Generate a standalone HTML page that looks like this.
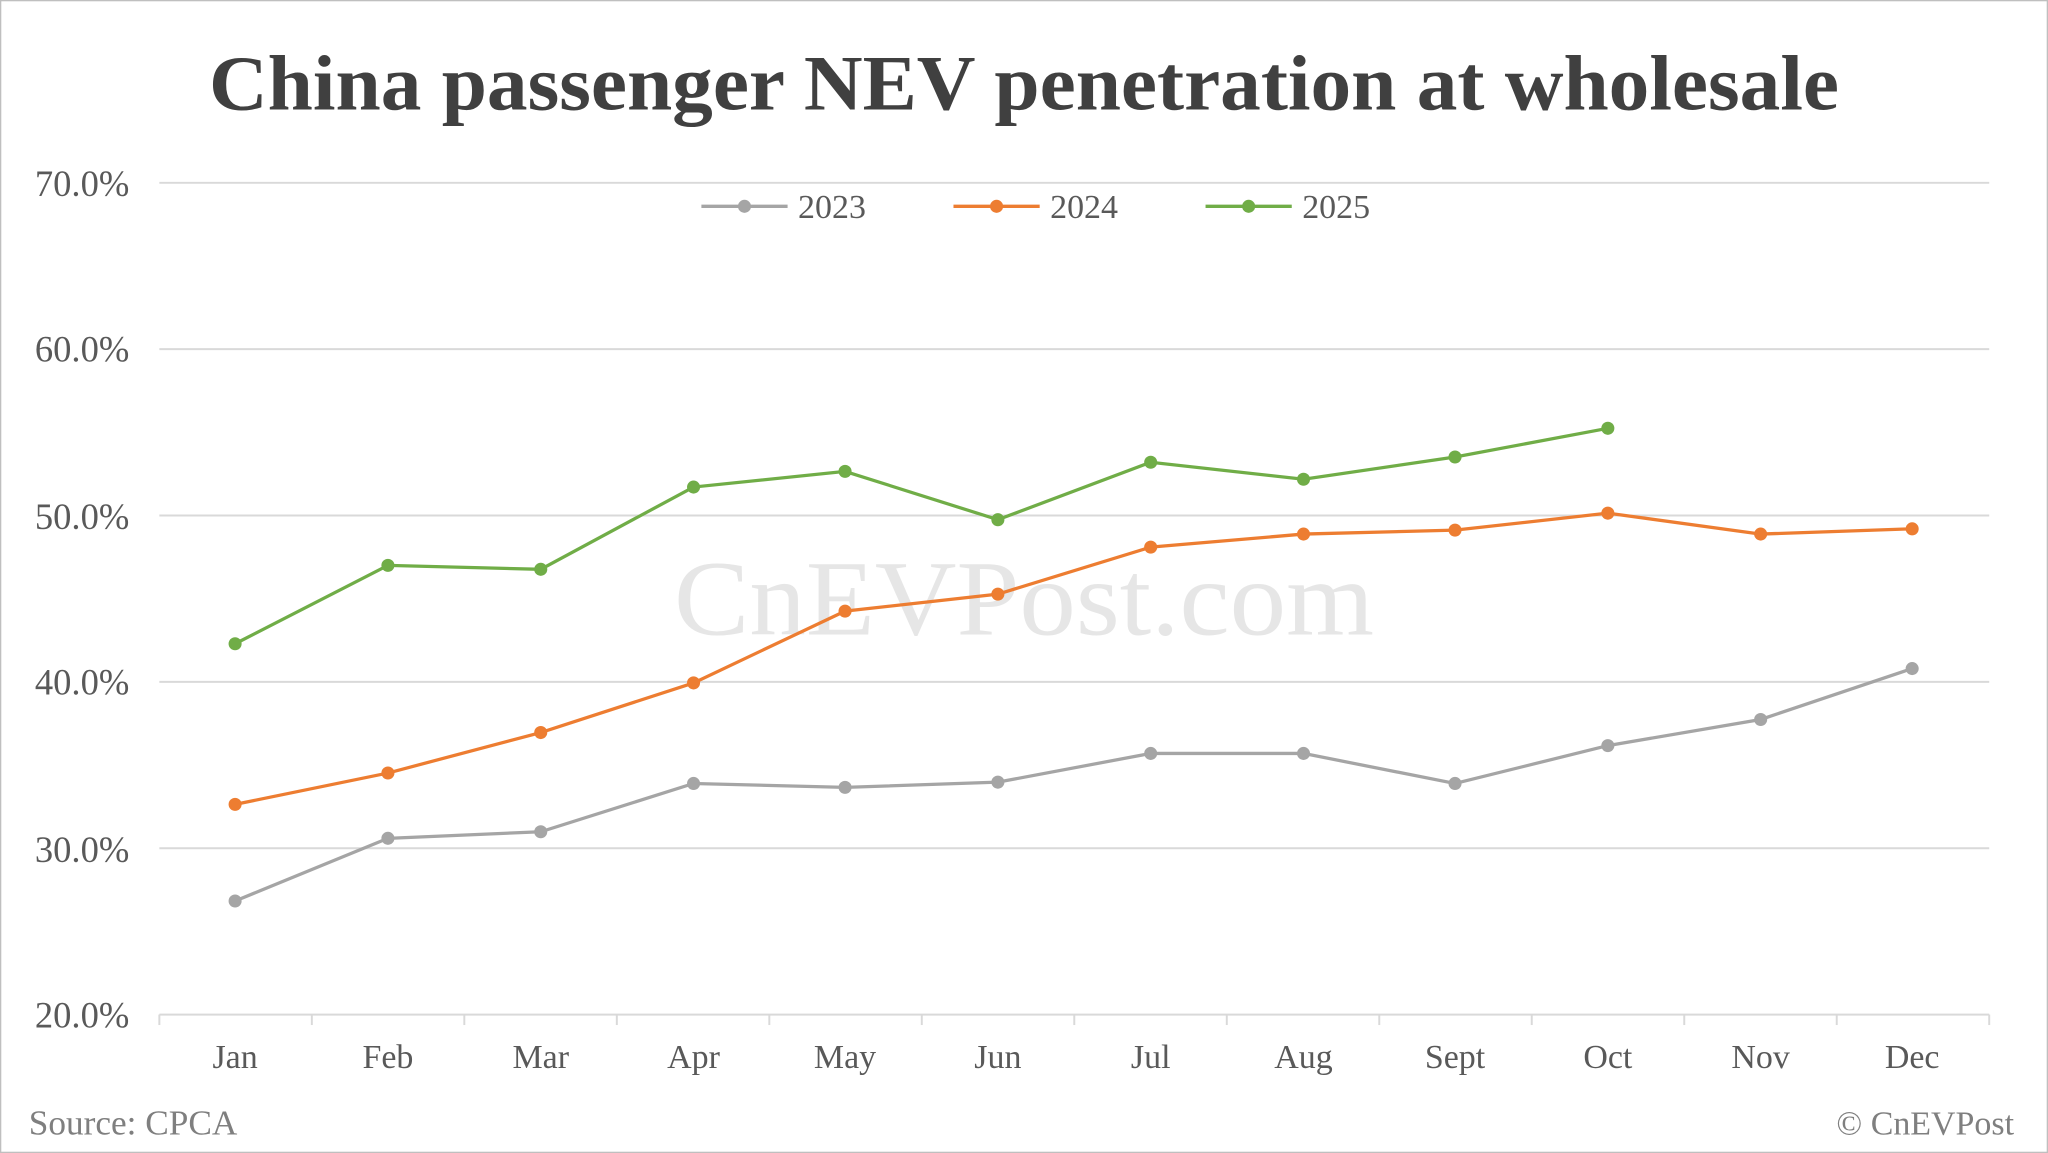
<!DOCTYPE html>
<html><head><meta charset="utf-8"><style>
html,body{margin:0;padding:0;background:#fff;}
svg{display:block;}
text{font-family:"Liberation Serif",serif;}
</style></head><body>
<svg width="2048" height="1153" viewBox="0 0 1568 883" preserveAspectRatio="none" xmlns="http://www.w3.org/2000/svg">
<rect x="0.5" y="0.5" width="1567" height="882" fill="#fff" stroke="#bfbfbf"/>
<text x="160" y="84" font-size="60" font-weight="bold" fill="#404040" textLength="1248" lengthAdjust="spacingAndGlyphs">China passenger NEV penetration at wholesale</text>
<g stroke="#d9d9d9" stroke-width="1.5">
<line x1="122" y1="140" x2="1523" y2="140"/>
<line x1="122" y1="267.4" x2="1523" y2="267.4"/>
<line x1="122" y1="394.8" x2="1523" y2="394.8"/>
<line x1="122" y1="522.2" x2="1523" y2="522.2"/>
<line x1="122" y1="649.6" x2="1523" y2="649.6"/>
<line x1="122" y1="777" x2="1523" y2="777"/>
</g>
<g stroke="#d9d9d9" stroke-width="1.5">
<line x1="122" y1="777" x2="122" y2="785"/><line x1="238.75" y1="777" x2="238.75" y2="785"/><line x1="355.5" y1="777" x2="355.5" y2="785"/><line x1="472.25" y1="777" x2="472.25" y2="785"/><line x1="589" y1="777" x2="589" y2="785"/><line x1="705.75" y1="777" x2="705.75" y2="785"/><line x1="822.5" y1="777" x2="822.5" y2="785"/><line x1="939.25" y1="777" x2="939.25" y2="785"/><line x1="1056" y1="777" x2="1056" y2="785"/><line x1="1172.75" y1="777" x2="1172.75" y2="785"/><line x1="1289.5" y1="777" x2="1289.5" y2="785"/><line x1="1406.25" y1="777" x2="1406.25" y2="785"/><line x1="1523" y1="777" x2="1523" y2="785"/>
</g>
<g font-size="28" fill="#595959" text-anchor="end">
<text x="99" y="150">70.0%</text><text x="99" y="277">60.0%</text><text x="99" y="405">50.0%</text><text x="99" y="532">40.0%</text><text x="99" y="660">30.0%</text><text x="99" y="787">20.0%</text>
</g>
<g font-size="26" fill="#595959" text-anchor="middle">
<text x="180" y="818">Jan</text><text x="297" y="818">Feb</text><text x="414" y="818">Mar</text><text x="531" y="818">Apr</text><text x="647" y="818">May</text><text x="764" y="818">Jun</text><text x="881" y="818">Jul</text><text x="998" y="818">Aug</text><text x="1114" y="818">Sept</text><text x="1231" y="818">Oct</text><text x="1348" y="818">Nov</text><text x="1464" y="818">Dec</text>
</g>
<text x="516" y="486" font-size="82" fill="#e6e6e6" textLength="536" lengthAdjust="spacingAndGlyphs">CnEVPost.com</text>
<g fill="none" stroke-width="2.5">
<polyline stroke="#a5a5a5" points="180,690 297,642 414,637 531,600 647,603 764,599 881,577 998,577 1114,600 1231,571 1348,551 1464,512"/>
<polyline stroke="#ed7d31" points="180,616 297,592 414,561 531,523 647,468 764,455 881,419 998,409 1114,406 1231,393 1348,409 1464,405"/>
<polyline stroke="#70ad47" points="180,493 297,433 414,436 531,373 647,361 764,398 881,354 998,367 1114,350 1231,328"/>
</g>
<g fill="#a5a5a5"><circle cx="180" cy="690" r="5"/><circle cx="297" cy="642" r="5"/><circle cx="414" cy="637" r="5"/><circle cx="531" cy="600" r="5"/><circle cx="647" cy="603" r="5"/><circle cx="764" cy="599" r="5"/><circle cx="881" cy="577" r="5"/><circle cx="998" cy="577" r="5"/><circle cx="1114" cy="600" r="5"/><circle cx="1231" cy="571" r="5"/><circle cx="1348" cy="551" r="5"/><circle cx="1464" cy="512" r="5"/></g>
<g fill="#ed7d31"><circle cx="180" cy="616" r="5"/><circle cx="297" cy="592" r="5"/><circle cx="414" cy="561" r="5"/><circle cx="531" cy="523" r="5"/><circle cx="647" cy="468" r="5"/><circle cx="764" cy="455" r="5"/><circle cx="881" cy="419" r="5"/><circle cx="998" cy="409" r="5"/><circle cx="1114" cy="406" r="5"/><circle cx="1231" cy="393" r="5"/><circle cx="1348" cy="409" r="5"/><circle cx="1464" cy="405" r="5"/></g>
<g fill="#70ad47"><circle cx="180" cy="493" r="5"/><circle cx="297" cy="433" r="5"/><circle cx="414" cy="436" r="5"/><circle cx="531" cy="373" r="5"/><circle cx="647" cy="361" r="5"/><circle cx="764" cy="398" r="5"/><circle cx="881" cy="354" r="5"/><circle cx="998" cy="367" r="5"/><circle cx="1114" cy="350" r="5"/><circle cx="1231" cy="328" r="5"/></g>
<g stroke-width="2.5">
<line x1="537" y1="158" x2="603" y2="158" stroke="#a5a5a5"/><circle cx="570" cy="158" r="5" fill="#a5a5a5"/>
<line x1="730" y1="158" x2="796" y2="158" stroke="#ed7d31"/><circle cx="763" cy="158" r="5" fill="#ed7d31"/>
<line x1="923" y1="158" x2="989" y2="158" stroke="#70ad47"/><circle cx="956" cy="158" r="5" fill="#70ad47"/>
</g>
<g font-size="26" fill="#595959"><text x="611" y="167">2023</text><text x="804" y="167">2024</text><text x="997" y="167">2025</text></g>
<text x="22" y="869" font-size="27" fill="#7f7f7f">Source: CPCA</text>
<text x="1542" y="869" font-size="26" fill="#7f7f7f" text-anchor="end">© CnEVPost</text>
</svg>
</body></html>
